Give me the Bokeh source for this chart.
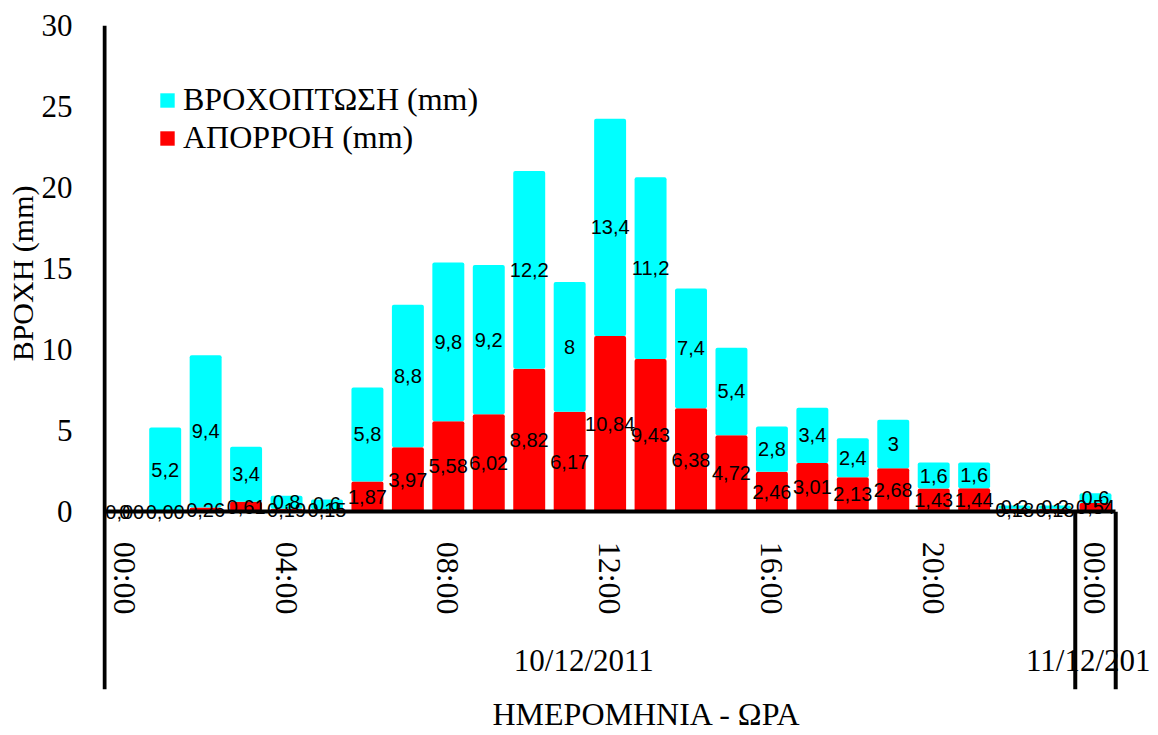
from bokeh.plotting import figure
from bokeh.models import (ColumnDataSource, LinearAxis, FixedTicker, Range1d,
                          Legend, LegendItem, Title)
from bokeh.embed import file_html
from bokeh.resources import INLINE
from bokeh.core.properties import value

# ---- data ----
hours = list(range(25))
rain = [0, 5.2, 9.4, 3.4, 0.8, 0.6, 5.8, 8.8, 9.8, 9.2, 12.2, 8, 13.4, 11.2,
        7.4, 5.4, 2.8, 3.4, 2.4, 3, 1.6, 1.6, 0.2, 0.2, 0.6]
runoff = [0, 0, 0.26, 0.61, 0.19, 0.15, 1.87, 3.97, 5.58, 6.02, 8.82, 6.17,
          10.84, 9.43, 6.38, 4.72, 2.46, 3.01, 2.13, 2.68, 1.43, 1.44, 0.18,
          0.18, 0.54]
hour_ticks = [0, 4, 8, 12, 16, 20, 24]
hour_labels = ["00:00", "04:00", "08:00", "12:00", "16:00", "20:00", "00:00"]
date_ticks = [11.35, 23.85]
date_labels = ["10/12/2011", "11/12/201"]
y_ticks = [0, 5, 10, 15, 20, 25, 30]
sep_x = [-0.5, 23.5, 24.5]
sep_top = [30, 0, 0]

SERIF = "Liberation Serif"

Y_MIN = -10.97
p = figure(width=1150, height=735,
           x_range=Range1d(-0.55, 25.36), y_range=Range1d(Y_MIN, 30),
           output_backend="svg", toolbar_location=None,
           x_axis_location=None, y_axis_location=None,
           min_border_left=102, min_border_right=0,
           min_border_top=25, min_border_bottom=45)
p.outline_line_color = None
p.grid.visible = False
p.background_fill_color = "white"
p.border_fill_color = "white"

# ---- y axis ----
yaxis = LinearAxis(ticker=FixedTicker(ticks=y_ticks),
                   axis_line_color=None,
                   major_tick_out=0, major_tick_in=0,
                   minor_tick_out=0, minor_tick_in=0,
                   major_label_standoff=30,
                   major_label_text_font=SERIF,
                   major_label_text_font_size="31px",
                   major_label_text_color="black")
p.add_layout(yaxis, "left")

ytitle = Title(text="ΒΡΟΧΗ (mm)", align="right", offset=160, standoff=0,
               text_font=SERIF, text_font_size="30px",
               text_font_style="normal", text_color="black")
p.add_layout(ytitle, "left")

# ---- hour axis (at y = 0) ----
haxis = LinearAxis(fixed_location=0, bounds=(-0.5, 24.5),
                   ticker=FixedTicker(ticks=hour_ticks),
                   major_label_overrides={t: l for t, l in zip(hour_ticks, hour_labels)},
                   major_label_orientation="vertical",
                   axis_line_width=4, axis_line_color="black",
                   major_tick_out=0, major_tick_in=0,
                   minor_tick_out=0, minor_tick_in=0,
                   major_label_standoff=30,
                   major_label_text_font=SERIF,
                   major_label_text_font_size="32px",
                   major_label_text_color="black")
p.add_layout(haxis, "below")

# ---- date axis ----
daxis = LinearAxis(fixed_location=-8.1,
                   ticker=FixedTicker(ticks=date_ticks),
                   major_label_overrides={t: l for t, l in zip(date_ticks, date_labels)},
                   axis_line_color=None,
                   major_tick_out=0, major_tick_in=0,
                   minor_tick_out=0, minor_tick_in=0,
                   major_label_standoff=0,
                   major_label_text_font=SERIF,
                   major_label_text_font_size="31px",
                   major_label_text_color="black")
p.add_layout(daxis, "below")

# ---- x title ----
xtitle = Title(text="ΗΜΕΡΟΜΗΝΙΑ - ΩΡΑ", align="left", offset=390, standoff=8,
               text_font=SERIF, text_font_size="32px",
               text_font_style="normal", text_color="black")
p.add_layout(xtitle, "below")

# ---- bars ----
src = ColumnDataSource(dict(
    x=hours, runoff=runoff, rain=rain,
    runoff_mid=[r / 2 for r in runoff],
    rain_mid=[r + q / 2 for r, q in zip(runoff, rain)],
    runoff_txt=[f"{r:.2f}".replace(".", ",") for r in runoff],
    rain_txt=[f"{q:g}".replace(".", ",") for q in rain],
))
rs = p.vbar_stack(["runoff", "rain"], x="x", width=0.79, source=src,
                  fill_color=["#FF0000", "#00FFFF"], line_color=None,
                  border_radius=2)

# separators / axis lines
p.segment(x0=sep_x, y0=[Y_MIN] * len(sep_x), x1=sep_x, y1=sep_top,
          line_color="black", line_width=4)

# data labels
for ycol, tcol in (("runoff_mid", "runoff_txt"), ("rain_mid", "rain_txt")):
    p.text(x="x", y=ycol, text=tcol, source=src,
           text_font=value("Liberation Sans"), text_font_size="20px",
           text_align="center", text_baseline="middle", text_color="black")

legend = Legend(items=[LegendItem(label="ΒΡΟΧΟΠΤΩΣΗ (mm)", renderers=[rs[1]]),
                       LegendItem(label="ΑΠΟΡΡΟΗ (mm)", renderers=[rs[0]])],
                location="top_left", margin=56, padding=6,
                glyph_width=18, glyph_height=18, label_height=36,
                label_standoff=7, spacing=1,
                background_fill_alpha=0, border_line_color=None,
                label_text_font=SERIF, label_text_font_size="32px",
                label_text_color="black")
p.add_layout(legend)

open("out.html", "w").write(file_html(p, INLINE))
